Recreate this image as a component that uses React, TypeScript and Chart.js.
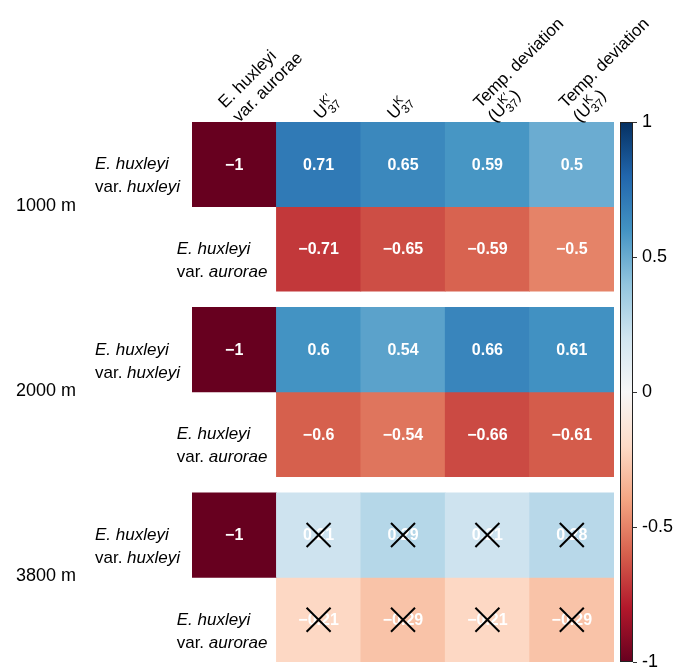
import React, { useEffect, useRef } from 'react';
import { Chart, registerables } from 'chart.js';

Chart.register(...registerables);

// ---------- data ----------
const columnKeys = ['aurorae', 'UK37p', 'UK37', 'devUK37p', 'devUK37'];
const headerLines: string[][] = [
  ['E. huxleyi', 'var. aurorae'],
  ['U{K\u2032}{37}'],
  ['U{K}{37}'],
  ['Temp. deviation', '(U{K\u2032}{37})'],
  ['Temp. deviation', '(U{K}{37})'],
];
const depthLabels = ['1000 m', '2000 m', '3800 m'];
const varietyNames = ['huxleyi', 'aurorae'];

const hux1000 = [-1, 0.71, 0.65, 0.59, 0.5];
const aur1000 = [null, -0.71, -0.65, -0.59, -0.5];
const hux2000 = [-1, 0.6, 0.54, 0.66, 0.61];
const aur2000 = [null, -0.6, -0.54, -0.66, -0.61];
const hux3800 = [-1, 0.21, 0.29, 0.21, 0.28];
const aur3800 = [null, -0.21, -0.29, -0.21, -0.29];

const crossHux1000 = [false, false, false, false, false];
const crossAur1000 = [false, false, false, false, false];
const crossHux2000 = [false, false, false, false, false];
const crossAur2000 = [false, false, false, false, false];
const crossHux3800 = [false, true, true, true, true];
const crossAur3800 = [false, true, true, true, true];

const colorbarTicks = [-1, -0.5, 0, 0.5, 1];

// ---------- layout / style ----------
const FONT = '"Liberation Sans", Arial, Helvetica, sans-serif';
const GAP = 0.19; // gap between depth groups, in row units
const headerDx = [5, 2, -9, 7, 8]; // last line baseline start, relative to column centre
const headerDy = [1, -2, -2, 1, 1]; // relative to chart top
const headerLineH = 20;
const headerSize = 17;

const rdbuStops = [
  '#67001f', '#b2182b', '#d6604d', '#f4a582', '#fddbc7', '#f7f7f7',
  '#d1e5f0', '#92c5de', '#4393c3', '#2166ac', '#053061',
];

function hexToRgb(h: string) {
  const n = parseInt(h.slice(1), 16);
  return [(n >> 16) & 255, (n >> 8) & 255, n & 255];
}

function rdbu(v: number) {
  const t = Math.max(0, Math.min(1, (v + 1) / 2)) * (rdbuStops.length - 1);
  const i = Math.min(Math.floor(t), rdbuStops.length - 2);
  const f = t - i;
  const a = hexToRgb(rdbuStops[i]);
  const b = hexToRgb(rdbuStops[i + 1]);
  const c = a.map((x, k) => Math.round(x + (b[k] - x) * f));
  return `rgb(${c[0]},${c[1]},${c[2]})`;
}

type Row = { depth: number; variety: number; values: (number | null)[]; crossed: boolean[] };
const rows: Row[] = [
  { depth: 0, variety: 0, values: hux1000, crossed: crossHux1000 },
  { depth: 0, variety: 1, values: aur1000, crossed: crossAur1000 },
  { depth: 1, variety: 0, values: hux2000, crossed: crossHux2000 },
  { depth: 1, variety: 1, values: aur2000, crossed: crossAur2000 },
  { depth: 2, variety: 0, values: hux3800, crossed: crossHux3800 },
  { depth: 2, variety: 1, values: aur3800, crossed: crossAur3800 },
];

function rowTop(r: Row) {
  return r.depth * (2 + GAP) + r.variety;
}

function fmt(v: number) {
  const s = String(Math.abs(v));
  return v < 0 ? '\u2212' + s : s;
}

// draw a line possibly containing U{sup}{sub} math
function drawRichLine(ctx: CanvasRenderingContext2D, line: string, x: number, y: number, size: number) {
  const re = /U\{([^}]*)\}\{([^}]*)\}/;
  const m = line.match(re);
  ctx.textAlign = 'left';
  ctx.textBaseline = 'alphabetic';
  if (!m) {
    ctx.font = `${size}px ${FONT}`;
    ctx.fillText(line, x, y);
    return;
  }
  const before = line.slice(0, m.index);
  const after = line.slice((m.index || 0) + m[0].length);
  let cx = x;
  ctx.font = `${size}px ${FONT}`;
  if (before) {
    ctx.fillText(before, cx, y);
    cx += ctx.measureText(before).width;
  }
  ctx.fillText('U', cx, y);
  cx += ctx.measureText('U').width + 0.5;
  const small = Math.round(size * 0.68);
  ctx.font = `${small}px ${FONT}`;
  ctx.fillText(m[1], cx, y - size * 0.42);
  ctx.fillText(m[2], cx, y + size * 0.25);
  cx += Math.max(ctx.measureText(m[1]).width, ctx.measureText(m[2]).width) + 0.5;
  ctx.font = `${size}px ${FONT}`;
  if (after) ctx.fillText(after, cx, y);
}

const overlayPlugin = {
  id: 'overlay',
  afterDraw(chart: any) {
    const ctx: CanvasRenderingContext2D = chart.ctx;
    const xs = chart.scales.x;
    const ys = chart.scales.y;
    const cb = chart.scales.cb;
    const area = chart.chartArea;
    ctx.save();

    // cell values and crosses
    rows.forEach((r) => {
      const cy = ys.getPixelForValue(rowTop(r) + 0.5);
      r.values.forEach((v, j) => {
        if (v === null) return;
        const cx = xs.getPixelForValue(j);
        ctx.fillStyle = '#ffffff';
        ctx.font = `bold 16px ${FONT}`;
        ctx.textAlign = 'center';
        ctx.textBaseline = 'middle';
        ctx.fillText(fmt(v), cx, cy + 1);
        if (r.crossed[j]) {
          ctx.strokeStyle = '#000';
          ctx.lineWidth = 2;
          ctx.beginPath();
          ctx.moveTo(cx - 12, cy - 12);
          ctx.lineTo(cx + 12, cy + 12);
          ctx.moveTo(cx + 12, cy - 12);
          ctx.lineTo(cx - 12, cy + 12);
          ctx.stroke();
        }
      });
    });

    // row labels
    ctx.fillStyle = '#000';
    rows.forEach((r) => {
      const cy = ys.getPixelForValue(rowTop(r) + 0.5);
      const first = r.values.findIndex((v) => v !== null);
      const left = xs.getPixelForValue(first) - (xs.getPixelForValue(1) - xs.getPixelForValue(0)) / 2;
      const word = varietyNames[r.variety];
      ctx.font = `italic 17px ${FONT}`;
      const w1 = ctx.measureText('E. huxleyi').width;
      const wWord = ctx.measureText(word).width;
      ctx.font = `17px ${FONT}`;
      const wVar = ctx.measureText('var. ').width;
      const bw = Math.max(w1, wVar + wWord);
      const x0 = left - (r.variety === 0 ? 12 : 9) - bw;
      ctx.textAlign = 'left';
      ctx.textBaseline = 'alphabetic';
      ctx.font = `italic 17px ${FONT}`;
      ctx.fillText('E. huxleyi', x0, cy + 5);
      ctx.font = `17px ${FONT}`;
      ctx.fillText('var. ', x0, cy + 28);
      ctx.font = `italic 17px ${FONT}`;
      ctx.fillText(word, x0 + wVar, cy + 28);
    });

    // depth labels
    depthLabels.forEach((d, g) => {
      const cy = ys.getPixelForValue(g * (2 + GAP) + 1);
      ctx.font = `18px ${FONT}`;
      ctx.textAlign = 'left';
      ctx.textBaseline = 'alphabetic';
      ctx.fillStyle = '#000';
      ctx.fillText(d, 16, cy + 4);
    });

    // column headers (rotated 45 deg), anchored at last line's baseline start
    headerLines.forEach((lines, j) => {
      const ax = xs.getPixelForValue(j) + headerDx[j];
      const ay = area.top + headerDy[j];
      ctx.save();
      ctx.translate(ax, ay);
      ctx.rotate(-Math.PI / 4);
      ctx.fillStyle = '#000';
      const n = lines.length;
      lines.forEach((ln, k) => drawRichLine(ctx, ln, 0, -(n - 1 - k) * headerLineH, headerSize));
      ctx.restore();
    });

    // colorbar
    const top = cb.getPixelForValue(1);
    const bot = cb.getPixelForValue(-1);
    const bx = area.right + 6;
    const bw = 13;
    const grad = ctx.createLinearGradient(0, bot, 0, top);
    rdbuStops.forEach((c, i) => grad.addColorStop(i / (rdbuStops.length - 1), c));
    ctx.fillStyle = grad;
    ctx.fillRect(bx, top, bw, bot - top);
    ctx.strokeStyle = '#222';
    ctx.lineWidth = 1;
    ctx.strokeRect(bx + 0.5, top + 0.5, bw - 1, bot - top - 1);
    ctx.strokeStyle = '#333';
    colorbarTicks.forEach((t) => {
      const y = Math.round(cb.getPixelForValue(t)) + 0.5;
      ctx.beginPath();
      ctx.moveTo(bx + bw, y);
      ctx.lineTo(bx + bw + 4, y);
      ctx.stroke();
    });

    ctx.restore();
  },
};

export default function App() {
  const ref = useRef<HTMLCanvasElement>(null);
  useEffect(() => {
    if (!ref.current) return;
    const datasets = rows.map((r) => ({
      data: r.values.map((v) => (v === null ? null : [rowTop(r), rowTop(r) + 1])) as any,
      backgroundColor: r.values.map((v) => (v === null ? 'rgba(0,0,0,0)' : rdbu(v))),
      borderWidth: 0,
      barPercentage: 1,
      categoryPercentage: 1,
      grouped: false,
      yAxisID: 'y',
    }));
    const chart = new Chart(ref.current, {
      type: 'bar',
      data: { labels: columnKeys, datasets },
      options: {
        responsive: false,
        animation: false,
        events: [],
        layout: { padding: { left: 192, top: 122, right: 0, bottom: 5 } },
        plugins: { legend: { display: false }, tooltip: { enabled: false } },
        scales: {
          x: { display: false, offset: true },
          y: { display: false, reverse: true, min: 0, max: 6 + 2 * GAP },
          cb: {
            type: 'linear',
            position: 'right',
            min: -1,
            max: 1,
            grid: { display: false, drawTicks: false },
            border: { display: false },
            ticks: {
              stepSize: 0.5,
              padding: 28,
              color: '#000',
              font: { family: FONT, size: 18 },
              callback: (v: any) => (Number(v) === 0 ? '0' : String(v)),
            },
            afterFit: (s: any) => {
              s.width = 62;
              s.paddingTop = 0;
              s.paddingBottom = 0;
            },
          } as any,
        },
      },
      plugins: [overlayPlugin],
    });
    return () => chart.destroy();
  }, []);
  return (
    <div style={{ position: 'absolute', left: 0, top: 0, width: 676, height: 667, background: '#fff' }}>
      <canvas ref={ref} width={676} height={667} />
    </div>
  );
}
